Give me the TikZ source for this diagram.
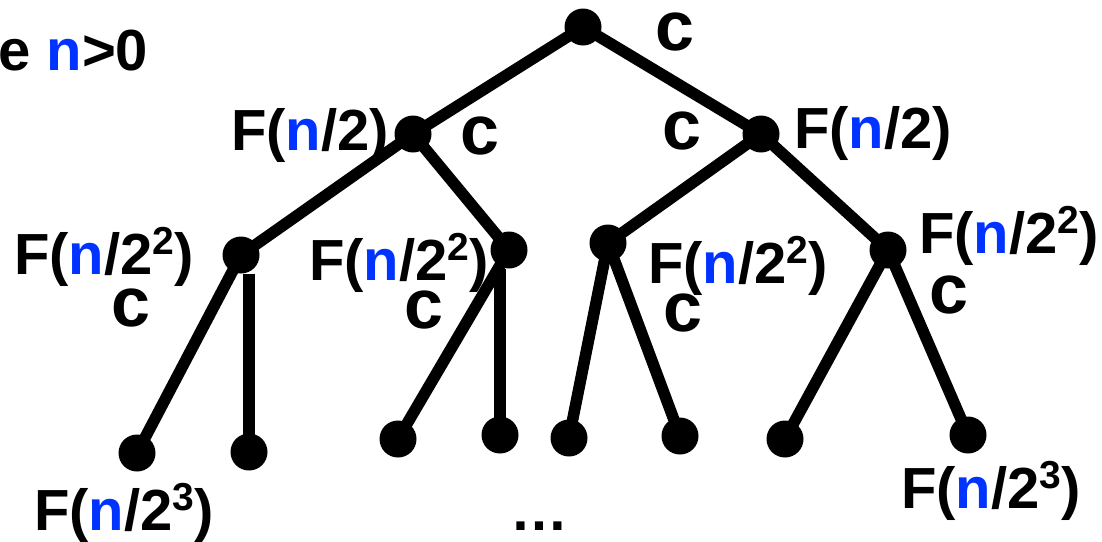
\documentclass[tikz,border=0pt]{standalone}
\usepackage{xcolor}
\usepackage{fontspec}
\setmainfont{Liberation Sans}
\usepackage{tikz}
\definecolor{nblue}{RGB}{0,51,255}
\newcommand{\nn}{\textcolor{nblue}{n}}
\newcommand{\sq}[1]{\raisebox{0.34em}{\fontsize{39}{42}\selectfont #1}}
\newcommand{\Fof}[1]{F(\nn/#1)}

\begin{document}
\begin{tikzpicture}[x=1pt,y=-1pt,
  dot/.style={circle,fill=black,minimum size=37pt,inner sep=0pt},
  edge/.style={line width=11.5pt},
  lbl/.style={font=\bfseries\fontsize{58}{62}\selectfont,inner sep=0pt,anchor=base west},
  cst/.style={font=\bfseries\fontsize{70}{80}\selectfont,inner sep=0pt}]
\useasboundingbox (0,0) rectangle (1102,541);
% inner nodes
\node[dot] (root) at (583,27) {};
\node[dot] (l) at (413,134) {};
\node[dot] (r) at (761,134) {};
\node[dot] (ll) at (241,255) {};
\node[dot] (lr) at (509,250) {};
\node[dot] (rl) at (608,243) {};
\node[dot] (rr) at (888,250) {};
% leaves
\node[dot] (lll) at (137,453) {};
\node[dot] (llr) at (249,452) {};
\node[dot] (lrl) at (398,439) {};
\node[dot] (lrr) at (500,435) {};
\node[dot] (rll) at (569,438) {};
\node[dot] (rlr) at (680,436) {};
\node[dot] (rrl) at (785,439) {};
\node[dot] (rrr) at (968,435) {};
% edges
\draw[edge] (root.center) -- (l.center);
\draw[edge] (root.center) -- (r.center);
\draw[edge] (l.center) -- (ll.center);
\draw[edge] (l.center) -- (lr.center);
\draw[edge] (r.center) -- (rl.center);
\draw[edge] (r.center) -- (rr.center);
\draw[edge] (ll.center) -- (lll.center);
\draw[edge] (ll.south -| llr) -- (llr.center);
\draw[edge] (lr.center) -- (lrl.center);
\draw[edge] (lr.south -| lrr) -- (lrr.center);
\draw[edge] (rl.center) -- (rll.center);
\draw[edge] (rl.center) -- (rlr.center);
\draw[edge] (rr.center) -- (rrl.center);
\draw[edge] (rr.center) -- (rrr.center);
% labels
\node[lbl] (case) at (-2,70) {e \nn>0};
\node[lbl] (fl) at (231,150) {\Fof{2}};
\node[lbl] (fr) at (794,148) {\Fof{2}};
\node[lbl] (fll) at (14,274) {\Fof{2\sq{2}}};
\node[lbl] (flr) at (309,280) {\Fof{2\sq{2}}};
\node[lbl] (frl) at (648,283) {\Fof{2\sq{2}}};
\node[lbl] (frr) at (919,253) {\Fof{2\sq{2}}};
\node[lbl] (flll) at (34,530) {\Fof{2\sq{3}}};
\node[lbl] (frrr) at (901,508) {\Fof{2\sq{3}}};
\node[lbl,anchor=base] (more) at (539,530) {…};
% costs
\node[cst] (c0) at (675,32) {c};
\node[cst] (c1) at (480,136) {c};
\node[cst] (c2) at (682,131) {c};
\node[cst] (c3) at (131,308) {c};
\node[cst] (c4) at (424,310) {c};
\node[cst] (c5) at (683,313) {c};
\node[cst] (c6) at (949,295) {c};
\end{tikzpicture}
\end{document}
